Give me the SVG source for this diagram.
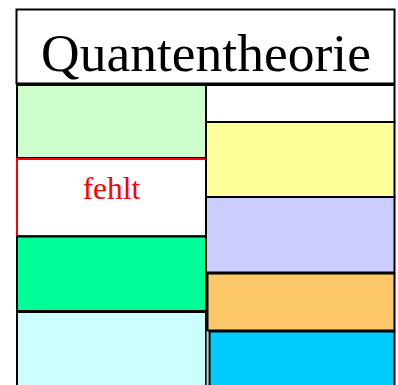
<svg xmlns="http://www.w3.org/2000/svg" width="398" height="385" viewBox="0 0 398 385">
<style>
.b{stroke:#000;stroke-width:2}
.t{font-family:"Liberation Serif","Times New Roman",serif;text-anchor:middle}
</style>
<rect width="398" height="385" fill="#fff"/>
<g id="title">
<rect class="b" x="16.5" y="9.5" width="378" height="74" fill="#fff"/>
<text class="t" x="206" y="71" font-size="53.5" fill="#000">Quantentheorie</text>
</g>
<g id="left">
<g id="l1"><rect class="b" x="17" y="85" width="189" height="73" fill="#CCFFCC"/></g>
<g id="l2"><rect x="17" y="159" width="189" height="77" fill="#fff" stroke="#f00" stroke-width="2"/>
<text class="t" x="111.5" y="199" font-size="31.5" fill="#f00">fehlt</text></g>
<g id="l3"><rect class="b" x="17" y="236.5" width="189" height="74.5" fill="#00FF99"/></g>
<g id="l4"><rect class="b" x="17" y="312" width="189" height="80" fill="#CCFFFF"/></g>
</g>
<g id="right">
<g id="r0"><rect class="b" x="206" y="85" width="188.5" height="37" fill="#fff"/></g>
<g id="r1"><rect class="b" x="206" y="122" width="188.5" height="75" fill="#FFFF99"/></g>
<g id="r2"><rect class="b" x="206" y="197" width="188.5" height="75.5" fill="#CCCCFF"/></g>
<g id="r3"><rect x="207.5" y="273.5" width="187" height="57" fill="#FCC86A" stroke="#000" stroke-width="2"/></g>
<line x1="207" y1="331" x2="207" y2="385" stroke="#999" stroke-width="1"/>
<g id="r4"><rect class="b" x="209.5" y="331.5" width="185" height="60" fill="#00CCFF"/></g>
</g>
</svg>
